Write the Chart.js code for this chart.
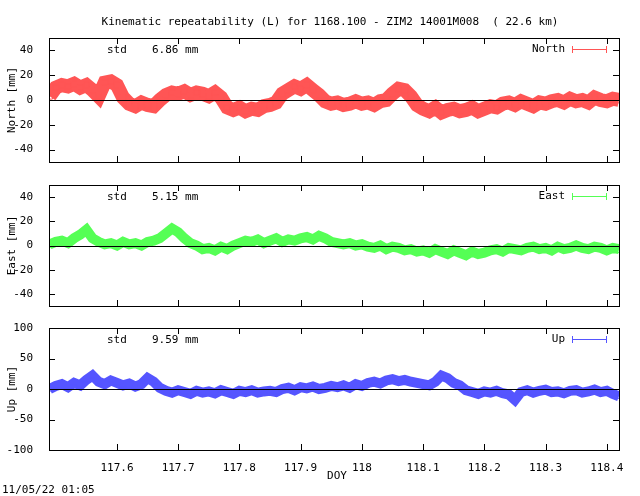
<!DOCTYPE html>
<html>
<head>
<script src="https://cdn.jsdelivr.net/npm/chart.js@4"></script>
<style>
  body { margin: 0; background: #fff; }
  canvas { position: absolute; left: 0; top: 0; }
</style>
</head>
<body>
<canvas id="north" width="640" height="496"></canvas>
<canvas id="east" width="640" height="496"></canvas>
<canvas id="up" width="640" height="496"></canvas>
<script>
var doyStart = 117.49, doyStep = 0.01;
var xTicks = [117.6, 117.7, 117.8, 117.9, 118.0, 118.1, 118.2, 118.3, 118.4];

var northValues = [3,10,12,11,13,10,12,8,3,14,15,12,2,-3,-5,-2,-4,-5,0,4,6,5,7,4,6,5,3,6,2,-6,-8,-6,-9,-7,-8,-5,-4,-2,5,8,11,9,12,8,4,-1,-3,-2,-4,-3,-1,
  -3,-2,-4,-1,0,5,9,8,3,-4,-7,-9,-6,-10,-8,-7,-9,-8,-6,-9,-7,-5,-6,-3,-2,-4,-1,-3,-5,-2,-3,-1,0,-2,1,-1,0,-2,2,0,-1,1,0];
var eastValues = [1,3,4,2,6,9,13,6,3,1,2,0,3,1,2,0,3,4,6,10,14,11,6,2,0,-3,-2,-4,-1,-3,0,2,4,3,5,2,4,6,3,5,4,6,7,5,8,6,3,2,1,2,0,
  1,-1,-2,0,-3,-1,-2,-4,-3,-5,-4,-6,-3,-5,-7,-4,-6,-8,-5,-7,-6,-4,-3,-5,-2,-3,-4,-2,-1,-3,-2,-4,-1,-3,-2,0,-2,-3,-1,-2,-4,-2,-3];
var upValues = [0,5,8,3,10,6,15,22,12,8,14,10,6,9,4,8,18,12,2,-3,-6,-2,-5,-8,-3,-6,-4,-7,-2,-5,-8,-3,-5,-2,-6,-4,-3,-5,0,2,-2,3,1,4,0,2,5,3,6,2,8,
  5,10,12,9,14,16,13,15,12,10,8,6,12,22,18,10,6,-2,-5,-8,-4,-6,-3,-7,-9,-18,-5,-2,-6,-3,-1,-5,-4,-7,-3,-2,-6,-4,-1,-5,-3,-8,-12];

var FONT = '11px "DejaVu Sans Mono"';

function toPoints(vals) {
  return vals.map(function (v, i) { return { x: doyStart + i * doyStep, y: v }; });
}

function framePlugin(cfg) {
  return {
    id: 'frame' + cfg.name,
    afterDatasetsDraw: function (chart) {
      var a = chart.chartArea, c = chart.ctx, ys = chart.scales.y, xs = chart.scales.x;
      c.save();
      c.strokeStyle = '#000'; c.lineWidth = 1;
      var y0 = Math.round(ys.getPixelForValue(0)) + 0.5;
      c.beginPath(); c.moveTo(a.left, y0); c.lineTo(a.right, y0); c.stroke();
      c.strokeRect(Math.round(a.left) + 0.5, Math.round(a.top) + 0.5, Math.round(a.right - a.left), Math.round(a.bottom - a.top));
      c.beginPath();
      cfg.yTicks.forEach(function (t) {
        var p = Math.round(ys.getPixelForValue(t)) + 0.5;
        c.moveTo(a.left, p); c.lineTo(a.left + 6, p);
        c.moveTo(a.right, p); c.lineTo(a.right - 6, p);
      });
      xTicks.forEach(function (t) {
        var p = Math.round(xs.getPixelForValue(t)) + 0.5;
        c.moveTo(p, a.top); c.lineTo(p, a.top + 6);
        c.moveTo(p, a.bottom); c.lineTo(p, a.bottom - 6);
      });
      c.stroke();
      c.font = FONT; c.fillStyle = '#000'; c.textBaseline = 'middle';
      c.textAlign = 'left';
      c.fillText('std', 107, a.top + 12);
      c.fillText(cfg.std + ' mm', 152, a.top + 12);
      c.textAlign = 'right';
      c.fillText(cfg.name, 565, a.top + 11);
      c.strokeStyle = cfg.color;
      c.beginPath();
      c.moveTo(572, a.top + 11.5); c.lineTo(607, a.top + 11.5);
      c.moveTo(572.5, a.top + 8); c.lineTo(572.5, a.top + 15);
      c.moveTo(606.5, a.top + 8); c.lineTo(606.5, a.top + 15);
      c.stroke();
      c.save();
      c.translate(12, (a.top + a.bottom) / 2); c.rotate(-Math.PI / 2);
      c.textAlign = 'center';
      c.fillText(cfg.label, 0, 0);
      c.restore();
      if (cfg.last) {
        c.textAlign = 'center';
        c.fillText('Kinematic repeatability (L) for 1168.100 - ZIM2 14001M008  ( 22.6 km)', 330, 22);
        c.fillText('DOY', 337, 476);
        c.textAlign = 'left';
        c.fillText('11/05/22 01:05', 2, 490);
      }
      c.restore();
    }
  };
}

function makePanel(id, cfg) {
  return new Chart(document.getElementById(id), {
    type: 'scatter',
    data: {
      datasets: [{
        data: toPoints(cfg.values),
        showLine: true,
        borderColor: cfg.color,
        borderWidth: cfg.band,
        tension: 0,
        pointStyle: cfg.marker,
        pointRadius: 4,
        pointBorderColor: cfg.color,
        pointBackgroundColor: 'rgba(255,255,255,0)',
        pointBorderWidth: 1
      }]
    },
    options: {
      responsive: false,
      animation: false,
      devicePixelRatio: 1,
      layout: { padding: { left: 0, right: 21, top: cfg.top, bottom: cfg.bottom } },
      plugins: { legend: { display: false }, tooltip: { enabled: false } },
      scales: {
        x: {
          type: 'linear', min: 117.489, max: 118.42,
          display: cfg.last,
          grid: { display: false }, border: { display: false },
          afterBuildTicks: function (s) { s.ticks = xTicks.map(function (v) { return { value: v }; }); },
          afterFit: function (s) { s.height = cfg.last ? 46 : 0; },
          ticks: {
            color: '#000', font: { family: 'DejaVu Sans Mono', size: 11 }, padding: 4,
            maxRotation: 0, autoSkip: false,
            callback: function (v) { return String(parseFloat(v.toFixed(1))); }
          }
        },
        y: {
          min: cfg.yMin, max: cfg.yMax,
          grid: { display: false }, border: { display: false },
          afterBuildTicks: function (s) { s.ticks = cfg.yTicks.map(function (v) { return { value: v }; }); },
          afterFit: function (s) { s.width = 49; },
          ticks: { color: '#000', font: { family: 'DejaVu Sans Mono', size: 11 }, padding: 8 }
        }
      }
    },
    plugins: [framePlugin(cfg)]
  });
}

makePanel('north', { name: 'North', label: 'North [mm]', std: '6.86', values: northValues, color: 'rgb(255,85,85)',
  marker: 'rect', band: 14, yMin: -50, yMax: 50, yTicks: [-40, -20, 0, 20, 40], top: 38, bottom: 334, last: false });
makePanel('east', { name: 'East', label: 'East [mm]', std: '5.15', values: eastValues, color: 'rgb(85,255,85)',
  marker: 'rectRot', band: 10, yMin: -50, yMax: 50, yTicks: [-40, -20, 0, 20, 40], top: 185, bottom: 190, last: false });
makePanel('up', { name: 'Up', label: 'Up [mm]', std: '9.59', values: upValues, color: 'rgb(85,85,255)',
  marker: 'triangle', band: 10, yMin: -100, yMax: 100, yTicks: [-100, -50, 0, 50, 100], top: 328, bottom: 0, last: true });
</script>
</body>
</html>
